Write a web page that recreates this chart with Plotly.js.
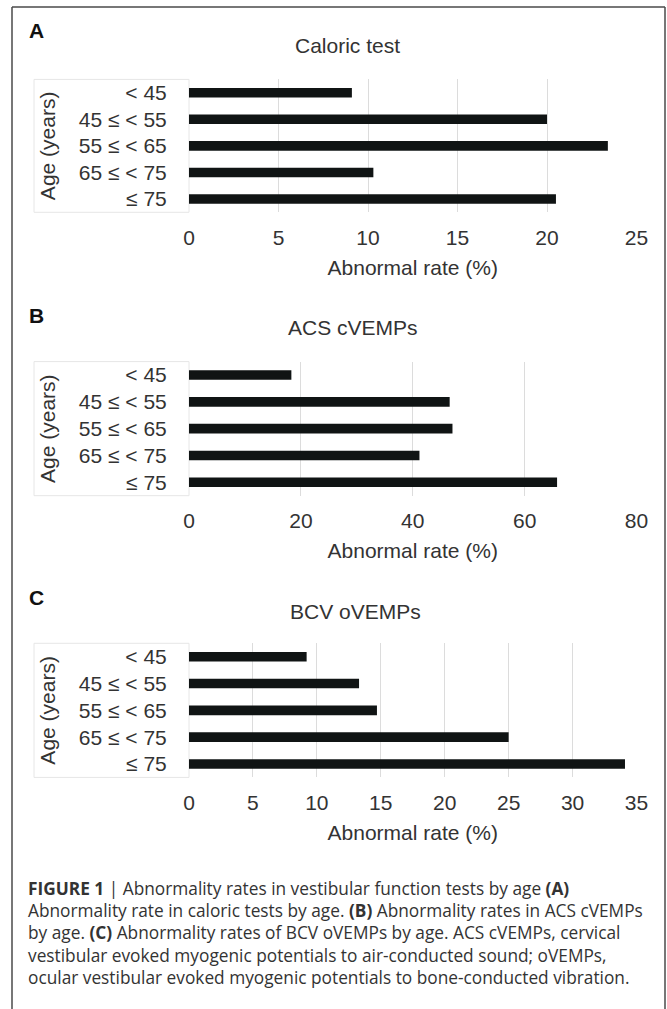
<!DOCTYPE html>
<html>
<head>
<meta charset="utf-8">
<script src="https://cdn.plot.ly/plotly-3.0.1.min.js"></script>
<style>
  html, body { margin: 0; padding: 0; background: #ffffff; }
  #chart { width: 667px; height: 1009px; }
</style>
</head>
<body>
<div id="chart"></div>
<script>
// ---- Data ----
const ageGroups = ['< 45', '45 ≤ < 55', '55 ≤ < 65', '65 ≤ < 75', '≤ 75'];
const caloricRate = [9.1, 20.0, 23.4, 10.3, 20.5];
const acsCvempRate = [18.3, 46.6, 47.1, 41.2, 65.8];
const bcvOvempRate = [9.2, 13.3, 14.7, 25.0, 34.1];

const panelTitles = ['Caloric test', 'ACS cVEMPs', 'BCV oVEMPs'];
const panelLetters = ['A', 'B', 'C'];
const xRanges = [[0, 25], [0, 80], [0, 35]];
const xDticks = [5, 20, 5];
const xTitle = 'Abnormal rate (%)';
const yTitle = 'Age (years)';

const captionLines = [
  '<b>FIGURE 1</b> | Abnormality rates in vestibular function tests by age <b>(A)</b>',
  'Abnormality rate in caloric tests by age. <b>(B)</b> Abnormality rates in ACS cVEMPs',
  'by age. <b>(C)</b> Abnormality rates of BCV oVEMPs by age. ACS cVEMPs, cervical',
  'vestibular evoked myogenic potentials to air-conducted sound; oVEMPs,',
  'ocular vestibular evoked myogenic potentials to bone-conducted vibration.'
];

// ---- Layout geometry (pixels) ----
const W = 667, H = 1009;
const px = v => v / W;
const py = v => 1 - v / H;

const FONT = 'Liberation Sans, Arial, sans-serif';
const CAPFONT = 'Open Sans, Liberation Sans, sans-serif';
const xDom = [px(189), px(636.5)];
// [top, bottom] of each plot area in px
const plotY = [[79.4, 212.3], [361.6, 495.7], [643.3, 777.4]];
const titleY = [46, 328, 611];
const titleX = [347, 353, 355];
const letterY = [31, 315, 597];

const series = [caloricRate, acsCvempRate, bcvOvempRate];

const data = series.map((vals, i) => ({
  type: 'bar',
  orientation: 'h',
  x: vals,
  y: ageGroups,
  xaxis: i === 0 ? 'x' : 'x' + (i + 1),
  yaxis: i === 0 ? 'y' : 'y' + (i + 1),
  width: 0.36,
  marker: { color: '#101414', line: { width: 0 } },
  hoverinfo: 'x+y',
  showlegend: false
}));

const layout = {
  width: W,
  height: H,
  margin: { l: 0, r: 0, t: 0, b: 0 },
  paper_bgcolor: '#ffffff',
  plot_bgcolor: 'rgba(0,0,0,0)',
  font: { family: FONT, color: '#333333', size: 21 },
  showlegend: false,
  shapes: [],
  annotations: []
};

for (let i = 0; i < 3; i++) {
  const xk = i === 0 ? 'xaxis' : 'xaxis' + (i + 1);
  const yk = i === 0 ? 'yaxis' : 'yaxis' + (i + 1);
  const ya = i === 0 ? 'y' : 'y' + (i + 1);
  const xa = i === 0 ? 'x' : 'x' + (i + 1);
  layout[xk] = {
    domain: xDom,
    anchor: ya,
    range: xRanges[i],
    dtick: xDticks[i],
    tick0: 0,
    showgrid: true,
    gridcolor: '#dcdcdc',
    gridwidth: 1,
    zeroline: false,
    showline: false,
    ticks: 'outside',
    ticklen: 6,
    tickcolor: 'rgba(0,0,0,0)',
    tickfont: { family: FONT, size: 21, color: '#333333' },
    fixedrange: true,
    title: { text: xTitle, standoff: 12, font: { family: FONT, size: 21, color: '#333333' } }
  };
  layout[yk] = {
    domain: [py(plotY[i][1]), py(plotY[i][0])],
    anchor: xa,
    type: 'category',
    categoryorder: 'array',
    categoryarray: ageGroups,
    autorange: 'reversed',
    showgrid: false,
    zeroline: false,
    showline: false,
    ticks: 'outside',
    ticklen: 17,
    tickcolor: 'rgba(0,0,0,0)',
    tickfont: { family: FONT, size: 21, color: '#333333' },
    fixedrange: true,
    title: { text: yTitle, standoff: 17, font: { family: FONT, size: 21, color: '#333333' } }
  };
  // white label box behind the category labels
  layout.shapes.push({
    type: 'rect', xref: 'paper', yref: 'paper', layer: 'below',
    x0: px(34), x1: px(189), y0: py(plotY[i][1]), y1: py(plotY[i][0]),
    fillcolor: '#ffffff', line: { color: '#e6e6e6', width: 1 }
  });
  // panel title
  layout.annotations.push({
    xref: 'paper', yref: 'paper', x: px(titleX[i]), y: py(titleY[i]),
    xanchor: 'center', yanchor: 'middle', showarrow: false,
    text: panelTitles[i],
    font: { family: FONT, size: 21, color: '#333333' }
  });
  // panel letter
  layout.annotations.push({
    xref: 'paper', yref: 'paper', x: px(27), y: py(letterY[i]),
    xanchor: 'left', yanchor: 'middle', showarrow: false,
    text: '<b>' + panelLetters[i] + '</b>',
    font: { family: FONT, size: 21, color: '#111111' }
  });
}

// caption
const captionY = [888, 910, 932, 955, 977];
captionLines.forEach((t, k) => {
  layout.annotations.push({
    xref: 'paper', yref: 'paper', x: px(26), y: py(captionY[k]),
    xanchor: 'left', yanchor: 'middle', showarrow: false, align: 'left',
    text: t,
    font: { family: CAPFONT, size: 17.3, color: '#333333' }
  });
});

// outer frame (open at the bottom)
const frame = { color: '#4a4a4a', width: 1.5 };
layout.shapes.push(
  { type: 'line', xref: 'paper', yref: 'paper', x0: px(12), x1: px(665), y0: py(7), y1: py(7), line: frame },
  { type: 'line', xref: 'paper', yref: 'paper', x0: px(12), x1: px(12), y0: py(7), y1: 0, line: frame },
  { type: 'line', xref: 'paper', yref: 'paper', x0: px(665), x1: px(665), y0: py(7), y1: 0, line: frame }
);

Plotly.newPlot('chart', data, layout, { displayModeBar: false, staticPlot: true });
</script>
</body>
</html>
